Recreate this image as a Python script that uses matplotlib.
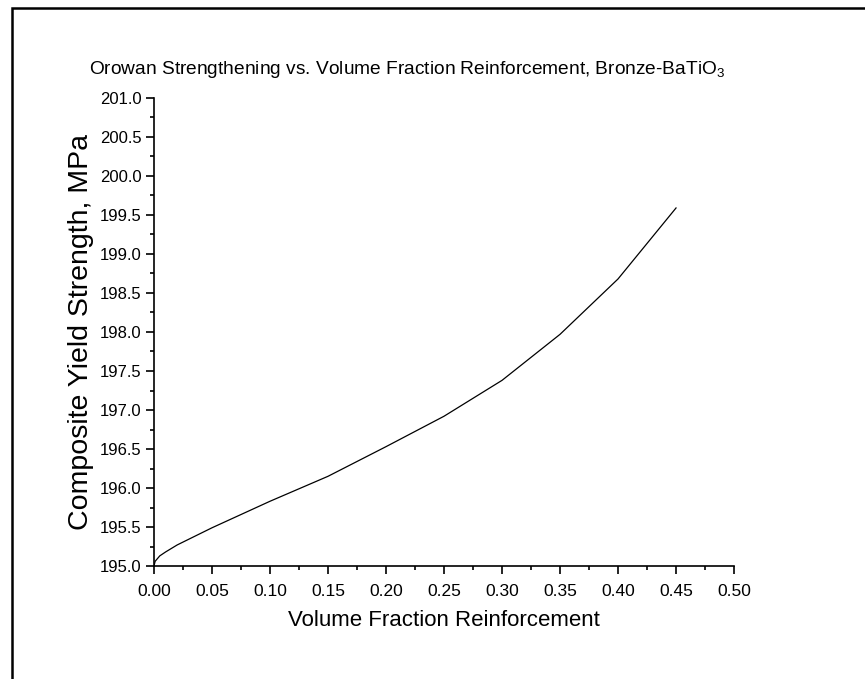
import matplotlib
matplotlib.use("Agg")
import matplotlib.pyplot as plt
from matplotlib.ticker import MultipleLocator, FormatStrFormatter
from matplotlib.patches import Rectangle

plt.rcParams['font.family'] = ['Liberation Sans', 'DejaVu Sans']
plt.rcParams['mathtext.fontset'] = 'custom'
plt.rcParams['mathtext.rm'] = 'Liberation Sans'
plt.rcParams['mathtext.it'] = 'Liberation Sans'

# values
vol_fraction = [0.0, 0.001, 0.005, 0.01, 0.02, 0.05, 0.10, 0.15, 0.20,
                0.25, 0.30, 0.35, 0.40, 0.45]
yield_strength = [195.0, 195.06, 195.13, 195.18, 195.27, 195.49, 195.83,
                  196.15, 196.53, 196.92, 197.38, 197.97, 198.68, 199.59]

fig = plt.figure(figsize=(8.65, 6.79), dpi=100)
ax = fig.add_axes([0.178, 0.1664, 0.6706, 0.6893])

ax.plot(vol_fraction, yield_strength, color='black', linewidth=0.9)

ax.set_xlim(0, 0.5)
ax.set_ylim(195.0, 201.0)
ax.xaxis.set_major_locator(MultipleLocator(0.05))
ax.xaxis.set_minor_locator(MultipleLocator(0.025))
ax.yaxis.set_major_locator(MultipleLocator(0.5))
ax.yaxis.set_minor_locator(MultipleLocator(0.25))
ax.xaxis.set_major_formatter(FormatStrFormatter('%.2f'))
ax.yaxis.set_major_formatter(FormatStrFormatter('%.1f'))

for side in ['top', 'right']:
    ax.spines[side].set_visible(False)
for side in ['left', 'bottom']:
    ax.spines[side].set_linewidth(1.2)

ax.tick_params(which='major', direction='out', length=6, width=1.2, pad=3)
ax.tick_params(axis='x', which='major', labelsize=12.5, pad=7)
ax.tick_params(axis='y', which='major', labelsize=12)
ax.tick_params(which='minor', direction='out', length=3, width=1.2)

ax.set_xlabel("Volume Fraction Reinforcement", fontsize=16, labelpad=8)
ax.set_ylabel("Composite Yield Strength, MPa", fontsize=20.5, labelpad=4)

fig.text(407 / 865, 1 - 70 / 679,
         "Orowan Strengthening vs. Volume Fraction Reinforcement, Bronze-BaTiO$_{3}$",
         fontsize=13.8, ha='center', va='center')

# page frame (cropped on right and bottom)
fig.patches.append(Rectangle((12 / 865, -0.1), 1.2, 1.1 - 8 / 679,
                             transform=fig.transFigure, fill=False,
                             edgecolor='black', linewidth=1.8))

fig.savefig("out.png", dpi=100)
